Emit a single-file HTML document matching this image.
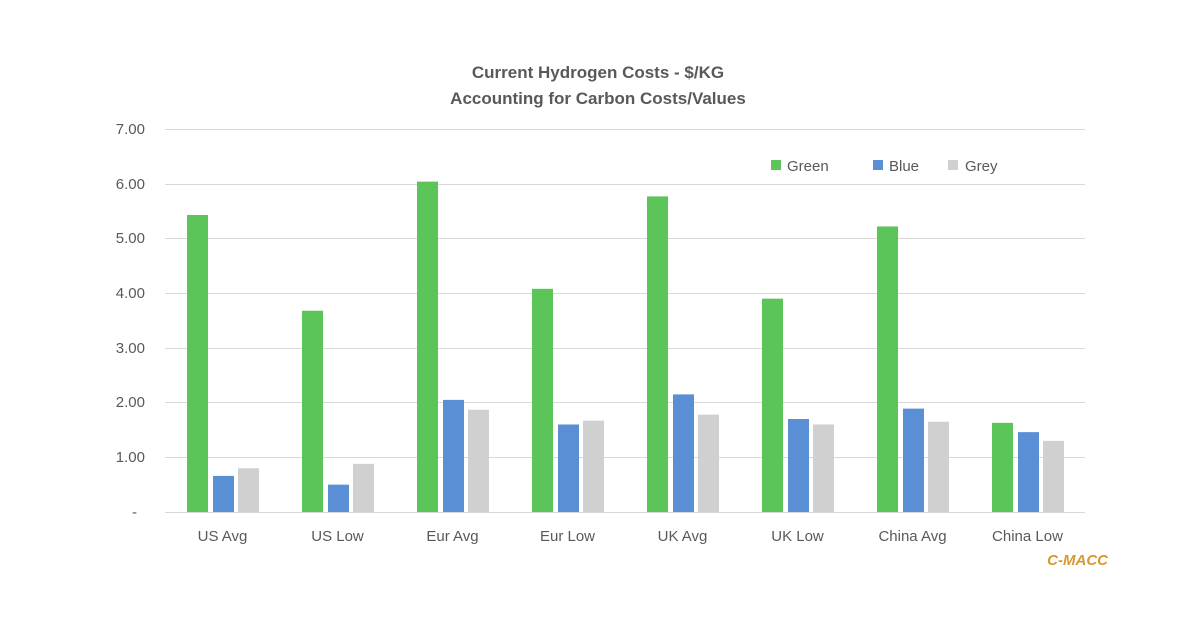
<!DOCTYPE html>
<html><head><style>
body{margin:0;background:#fff;}
svg text{font-family:"Liberation Sans",sans-serif;fill:#595959;}
</style></head><body>
<svg width="1200" height="627" xmlns="http://www.w3.org/2000/svg">
<rect width="1200" height="627" fill="#fff"/>
<text x="598" y="78" text-anchor="middle" font-size="17" font-weight="bold">Current Hydrogen Costs - $/KG</text>
<text x="598" y="104" text-anchor="middle" font-size="17" font-weight="bold">Accounting for Carbon Costs/Values</text>
<g stroke="#d9d9d9" stroke-width="1">
<line x1="165" x2="1085" y1="129.5" y2="129.5"/>
<line x1="165" x2="1085" y1="184.5" y2="184.5"/>
<line x1="165" x2="1085" y1="238.5" y2="238.5"/>
<line x1="165" x2="1085" y1="293.5" y2="293.5"/>
<line x1="165" x2="1085" y1="348.5" y2="348.5"/>
<line x1="165" x2="1085" y1="402.5" y2="402.5"/>
<line x1="165" x2="1085" y1="457.5" y2="457.5"/>
<line x1="165" x2="1085" y1="512.5" y2="512.5"/>
</g>
<g font-size="15" text-anchor="end">
<text x="145" y="134">7.00</text>
<text x="145" y="189">6.00</text>
<text x="145" y="243">5.00</text>
<text x="145" y="298">4.00</text>
<text x="145" y="353">3.00</text>
<text x="145" y="407">2.00</text>
<text x="145" y="462">1.00</text>
<text x="137" y="517">-</text>
</g>
<g id="bars"></g>
<g font-size="15" text-anchor="middle" id="cats"></g>
<rect x="771" y="160" width="10" height="10" fill="#5cc55a"/>
<text x="787" y="171" font-size="15">Green</text>
<rect x="873" y="160" width="10" height="10" fill="#5a8fd6"/>
<text x="889" y="171" font-size="15">Blue</text>
<rect x="948" y="160" width="10" height="10" fill="#d0d0d0"/>
<text x="965" y="171" font-size="15">Grey</text>
<text x="1108" y="565" text-anchor="end" font-size="15" font-weight="bold" font-style="italic" style="fill:#d9982f">C-MACC</text>
</svg>
<script>
var d=[["US Avg",5.43,0.66,0.80],["US Low",3.68,0.50,0.88],["Eur Avg",6.04,2.05,1.87],["Eur Low",4.08,1.60,1.67],["UK Avg",5.77,2.15,1.78],["UK Low",3.90,1.70,1.60],["China Avg",5.22,1.89,1.65],["China Low",1.63,1.46,1.30]];
var cols=["#5cc55a","#5a8fd6","#d0d0d0"],offs=[-35.5,-9.5,15.5];
var ns="http://www.w3.org/2000/svg",b=document.getElementById("bars"),c=document.getElementById("cats");
d.forEach(function(r,i){var cx=165+115*i+57.5;
for(var k=0;k<3;k++){var h=r[k+1]*54.7;var e=document.createElementNS(ns,"rect");
e.setAttribute("x",cx+offs[k]);e.setAttribute("y",512-h);e.setAttribute("width",21);e.setAttribute("height",h);e.setAttribute("fill",cols[k]);b.appendChild(e);}
var t=document.createElementNS(ns,"text");t.setAttribute("x",cx);t.setAttribute("y",541);t.textContent=r[0];c.appendChild(t);});
</script>
</body></html>
